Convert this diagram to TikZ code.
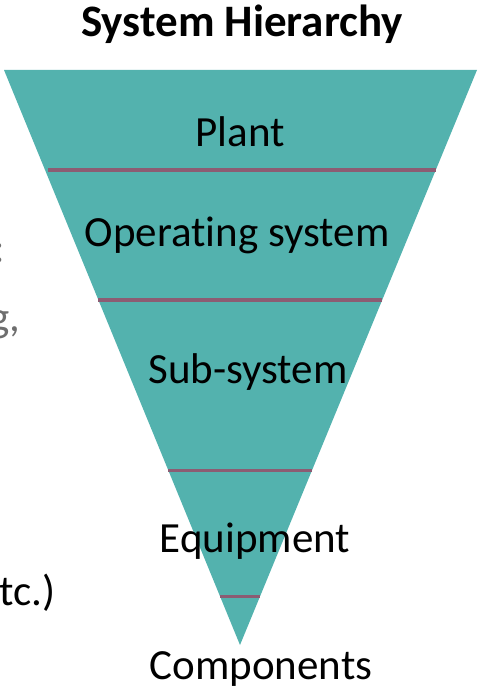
\documentclass[tikz,border=0pt]{standalone}
\usepackage{fontspec}
\setmainfont[Ligatures=NoCommon]{Carlito}
\usetikzlibrary{calc}
\definecolor{pyramidteal}{RGB}{83,178,174}
\definecolor{levelline}{RGB}{140,92,115}
\definecolor{cutgrey}{RGB}{110,110,110}
\begin{document}
\begin{tikzpicture}[
                        x=1pt, y=-1pt,
                        level/.style={anchor=base, inner sep=0pt, font=\fontsize{43}{50}\selectfont},
                        divider/.style={draw=levelline, line width=3.2pt},
                        cut/.style={inner sep=0pt, font=\fontsize{43}{50}\selectfont}
                    ]
                    \useasboundingbox (0,0) rectangle (480,700);
                    \clip (0,0) rectangle (480,700);

                    % Blocks
                    \coordinate (tl) at (4,70);
                    \coordinate (tr) at (477,70);
                    \coordinate (apex) at (240,645);
                    \fill [pyramidteal] (tl) -- (tr) -- (apex) -- cycle;

                    \node [anchor=base, inner sep=0pt, font=\fontsize{45}{52}\selectfont\bfseries] (title) at (242,37) {System Hierarchy};
                    \node [level] (plant) at (240,147) {Plant};
                    \node [level] (opsys) at (237,247) {Operating system};
                    \node [level] (subsys) at (248,383) {Sub-system};
                    \node [level] (equip) at (255,552) {Equipment};
                    \node [level] (comp) at (261,679) {Components};

                    % cut-off text of the slide
                    \node [cut, anchor=base west, text=cutgrey] (colon) at (-7,262) {:};
                    \node [cut, anchor=base west, text=cutgrey] (eg) at (-11,331) {g,};
                    \node [cut, anchor=base west] (etc) at (-1,605) {tc.)};

                    % Connections
                    \coordinate (l1) at ($(tl)!0.174!(apex)$);
                    \coordinate (r1) at ($(tr)!0.174!(apex)$);
                    \coordinate (l2) at ($(tl)!0.400!(apex)$);
                    \coordinate (r2) at ($(tr)!0.400!(apex)$);
                    \coordinate (l3) at ($(tl)!0.697!(apex)$);
                    \coordinate (r3) at ($(tr)!0.697!(apex)$);
                    \coordinate (l4) at ($(tl)!0.915!(apex)$);
                    \coordinate (r4) at ($(tr)!0.915!(apex)$);
                    \draw [divider] ([xshift=3pt]l1) -- (r1);
                    \draw [divider] (l2) -- (r2);
                    \draw [divider] (l3) -- (r3);
                    \draw [divider] (l4) -- (r4);
                \end{tikzpicture}
\end{document}
